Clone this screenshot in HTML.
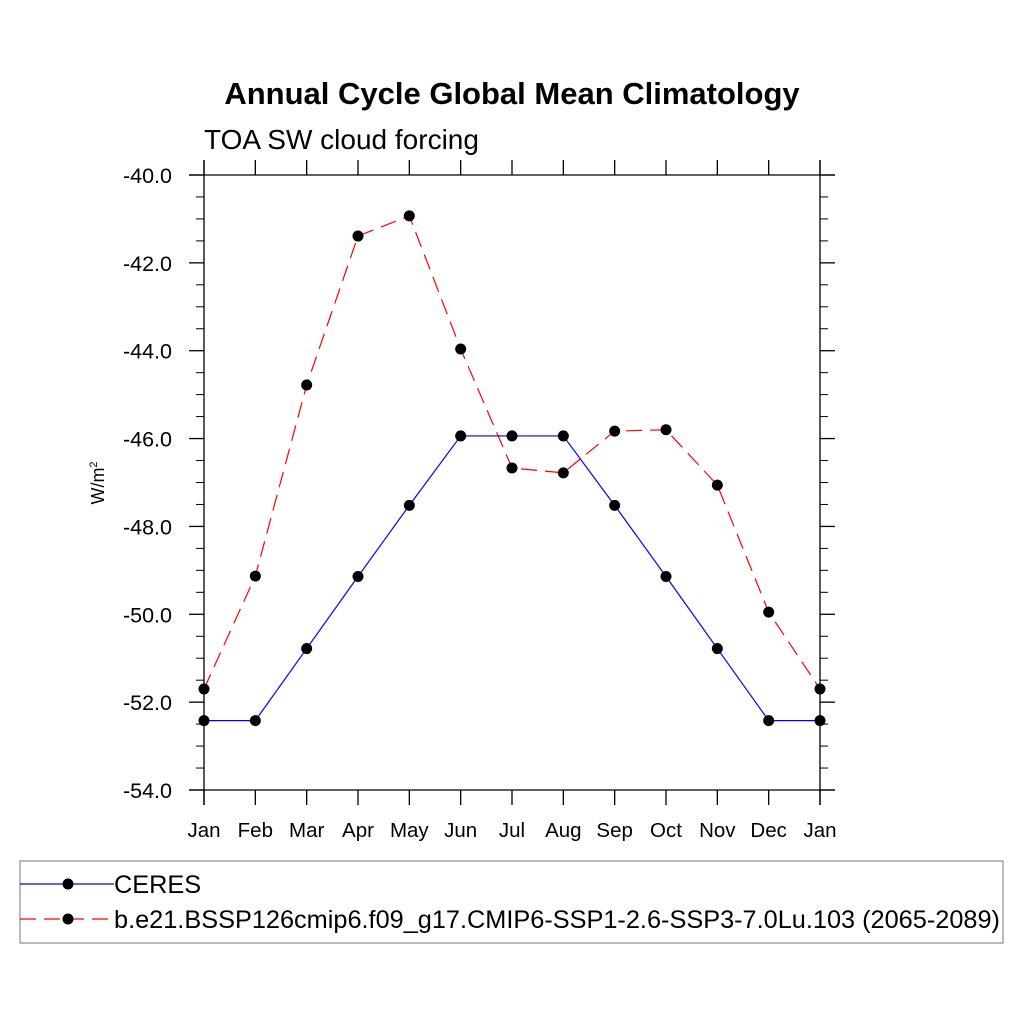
<!DOCTYPE html>
<html><head><meta charset="utf-8"><style>body{margin:0;background:#fff}svg{font-family:"Liberation Sans",sans-serif}</style></head>
<body>
<svg id="c" width="1024" height="1024" xmlns="http://www.w3.org/2000/svg">
<text x="512" y="104" text-anchor="middle" font-size="31" font-weight="bold">Annual Cycle Global Mean Climatology</text>
<text x="204" y="149" font-size="28">TOA SW cloud forcing</text>
<text transform="translate(104,483) rotate(-90)" text-anchor="middle" font-size="18">W/m<tspan font-size="11" dy="-7">2</tspan></text>
<g id="axes" stroke="#000" stroke-width="1.3" fill="none"></g>
<g id="marks"></g>
<g>
<rect x="20" y="861" width="983" height="82" fill="none" stroke="#777" stroke-width="1"/>
<line x1="20" y1="884" x2="114" y2="884" stroke="#00f" stroke-width="1.2"/>
<circle cx="68" cy="884" r="5.5"/>
<text x="114" y="893" font-size="25.3">CERES</text>
<line x1="20" y1="919" x2="114" y2="919" stroke="#f00" stroke-width="1.2" stroke-dasharray="16,8"/>
<circle cx="68" cy="919" r="5.5"/>
<text x="114" y="928" font-size="25.3">b.e21.BSSP126cmip6.f09_g17.CMIP6-SSP1-2.6-SSP3-7.0Lu.103 (2065-2089)</text>
</g>
</svg>
<script>
const months=["Jan","Feb","Mar","Apr","May","Jun","Jul","Aug","Sep","Oct","Nov","Dec","Jan"];
const ceres=[-52.42,-52.42,-50.78,-49.14,-47.52,-45.94,-45.94,-45.94,-47.52,-49.14,-50.78,-52.42,-52.42];
const model=[-51.70,-49.13,-44.78,-41.39,-40.93,-43.96,-46.67,-46.78,-45.83,-45.80,-47.06,-49.95,-51.70];
const yTicks=[-40,-42,-44,-46,-48,-50,-52,-54];
const NS="http://www.w3.org/2000/svg";
const X0=204,X1=820,Y0=175,Y1=790,YMIN=-54,YMAX=-40;
const xs=i=>X0+i*(X1-X0)/12;
const ys=v=>Y0+(YMAX-v)/(YMAX-YMIN)*(Y1-Y0);
function mk(t,a,p){const e=document.createElementNS(NS,t);for(const k in a)e.setAttribute(k,a[k]);(p||document.getElementById('c')).appendChild(e);return e;}
const ax=document.getElementById('axes');
mk('line',{x1:189,y1:Y0,x2:835,y2:Y0},ax);
mk('line',{x1:189,y1:Y1,x2:835,y2:Y1},ax);
mk('line',{x1:X0,y1:160,x2:X0,y2:805},ax);
mk('line',{x1:X1,y1:160,x2:X1,y2:805},ax);
for(let v=YMIN;v<=YMAX+0.01;v+=0.5){const y=ys(v);const maj=Math.abs(v%2)<0.01;
 if(!maj){mk('line',{x1:X0-8,y1:y,x2:X0,y2:y,'stroke-width':1},ax);mk('line',{x1:X1,y1:y,x2:X1+8,y2:y,'stroke-width':1},ax);}
 else{mk('line',{x1:X0-15,y1:y,x2:X0,y2:y},ax);mk('line',{x1:X1,y1:y,x2:X1+15,y2:y},ax);}}
yTicks.forEach(v=>{const t=mk('text',{x:172,y:ys(v)+8,'text-anchor':'end','font-size':21.5});


t.textContent=v.toFixed(1);});
months.forEach((m,i)=>{const x=xs(i);
 mk('line',{x1:x,y1:Y0-15,x2:x,y2:Y0},ax);mk('line',{x1:x,y1:Y1,x2:x,y2:Y1+15},ax);
 const t=mk('text',{x:x,y:837,'text-anchor':'middle','font-size':20.5});
 
 
 t.textContent=m;});
const g=document.getElementById('marks');
function series(d,col,dash,name){
 const pl=mk('polyline',{points:d.map((v,i)=>xs(i)+','+ys(v)).join(' '),fill:'none',stroke:col,'stroke-width':1.2,'stroke-dasharray':dash},g);
 
 
 d.forEach((v,i)=>{const c=mk('circle',{cx:xs(i),cy:ys(v),r:5.5,fill:'#000'},g);
 
 });}
series(model,'#f00','16,8','model');
series(ceres,'#00f','none','ceres');
</script>
</body></html>
